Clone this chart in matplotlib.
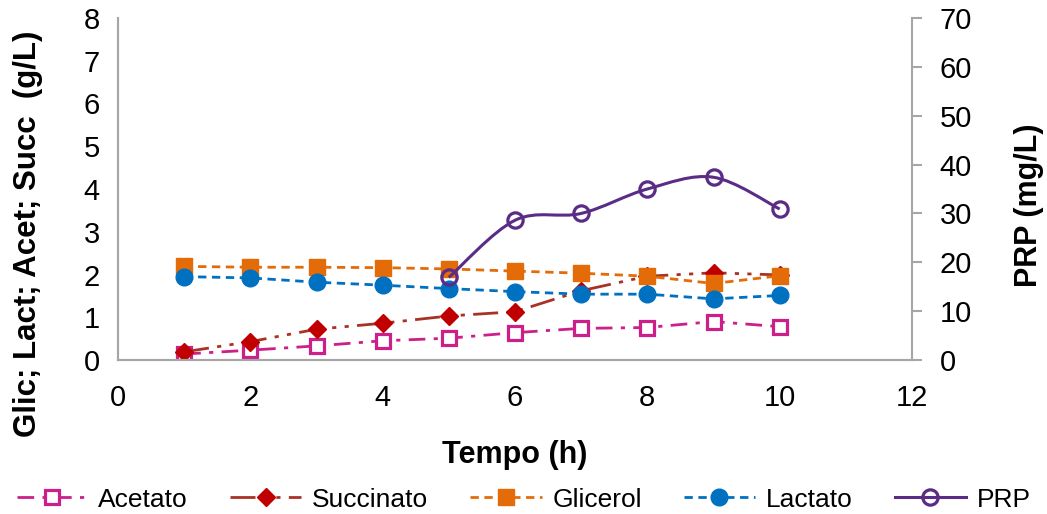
import matplotlib.pyplot as plt
from matplotlib.path import Path
from matplotlib.patches import PathPatch
from matplotlib.lines import Line2D

plt.rcParams['font.family'] = ['Liberation Sans', 'DejaVu Sans']

# dados
tempo = [1, 2, 3, 4, 5, 6, 7, 8, 9, 10]
acetato = [0.14, 0.23, 0.33, 0.45, 0.51, 0.64, 0.74, 0.76, 0.90, 0.78]
succinato = [0.19, 0.43, 0.72, 0.86, 1.03, 1.13, 1.62, 1.96, 2.04, 1.99]
glicerol = [2.19, 2.17, 2.17, 2.16, 2.13, 2.08, 2.03, 1.96, 1.79, 1.97]
lactato = [1.95, 1.92, 1.82, 1.75, 1.67, 1.60, 1.54, 1.54, 1.43, 1.51]
tempo_prp = [5, 6, 7, 8, 9, 10]
prp = [16.9, 28.6, 30.0, 35.0, 37.4, 30.9]

cinza = '#a6a6a6'
c_acet = '#cc1f8a'
c_succ = '#c00000'
c_succ_linha = '#a93226'
c_glic = '#e36c09'
c_lact = '#0070c0'
c_prp = '#5b2c86'

fig = plt.figure(figsize=(10.47, 5.14), dpi=100)
ax = fig.add_axes([0.1127, 0.2996, 0.7584, 0.6654])
ax2 = ax.twinx()

l1, = ax.plot(tempo, acetato, color=c_acet, linestyle=(0, (6, 3, 1.5, 3)), lw=2,
              marker='s', ms=10, mfc='white', mec=c_acet, mew=2.3, label='Acetato')
l2, = ax.plot(tempo, succinato, color=c_succ_linha, linestyle=(0, (9, 3, 1.5, 3, 1.5, 3)), lw=2,
              marker='D', ms=9, mfc=c_succ, mec=c_succ, label='Succinato')
l3, = ax.plot(tempo, glicerol, color=c_glic, linestyle=(0, (3, 2)), lw=2,
              marker='s', ms=11, mfc=c_glic, mec=c_glic, label='Glicerol')
l4, = ax.plot(tempo, lactato, color=c_lact, linestyle=(0, (3, 2)), lw=2,
              marker='o', ms=12, mfc=c_lact, mec=c_lact, label='Lactato')

# linha suavizada do PRP (curva de Catmull-Rom convertida em Bezier)
verts = [(tempo_prp[0], prp[0])]
codes = [Path.MOVETO]
n = len(tempo_prp)
for i in range(n - 1):
    x0, y0 = tempo_prp[max(i - 1, 0)], prp[max(i - 1, 0)]
    x1, y1 = tempo_prp[i], prp[i]
    x2, y2 = tempo_prp[i + 1], prp[i + 1]
    x3, y3 = tempo_prp[min(i + 2, n - 1)], prp[min(i + 2, n - 1)]
    verts += [(x1 + (x2 - x0) / 6, y1 + (y2 - y0) / 6),
              (x2 - (x3 - x1) / 6, y2 - (y3 - y1) / 6),
              (x2, y2)]
    codes += [Path.CURVE4] * 3
ax2.add_patch(PathPatch(Path(verts, codes), fill=False, edgecolor=c_prp, lw=2.2))
ax2.plot(tempo_prp, prp, linestyle='none', marker='o', ms=11, mfc='none', mec=c_prp, mew=2.3)
l5 = Line2D([], [], color=c_prp, lw=2.2, marker='o', ms=11, mfc='none', mec=c_prp, mew=2.3)

ax.set_xlim(0, 12)
ax.set_ylim(0, 8)
ax2.set_ylim(0, 70)
ax.set_xticks(range(0, 13, 2))
ax.set_yticks(range(0, 9))
ax2.set_yticks(range(0, 71, 10))

for a in (ax, ax2):
    for s in a.spines.values():
        s.set_color(cinza)
        s.set_linewidth(1.5)
    a.spines['top'].set_visible(False)
ax.spines['right'].set_visible(False)

ax.tick_params(axis='x', length=0, pad=17, labelsize=21)
ax.tick_params(axis='y', length=0, pad=13, labelsize=21)
ax2.tick_params(axis='y', length=7, width=1.5, color=cinza, pad=13, labelsize=21)

ax.set_xlabel('Tempo (h)', fontsize=22, fontweight='bold')
ax.set_ylabel('Glic; Lact; Acet; Succ  (g/L)', fontsize=22.5, fontweight='bold')
ax2.set_ylabel('PRP (mg/L)', fontsize=22, fontweight='bold')
ax.xaxis.set_label_coords(0.5, -0.234)
ax.yaxis.set_label_coords(-0.094, 0.37)
ax2.yaxis.set_label_coords(1.128, 0.453)

fig.legend([l1, l2, l3, l4, l5], ['Acetato', 'Succinato', 'Glicerol', 'Lactato', 'PRP'],
           loc='center', bbox_to_anchor=(0.5, 0.028), ncol=5, frameon=False,
           fontsize=19, handlelength=2.7, handletextpad=0.4, columnspacing=1.6)

plt.savefig('out.png', dpi=100)
